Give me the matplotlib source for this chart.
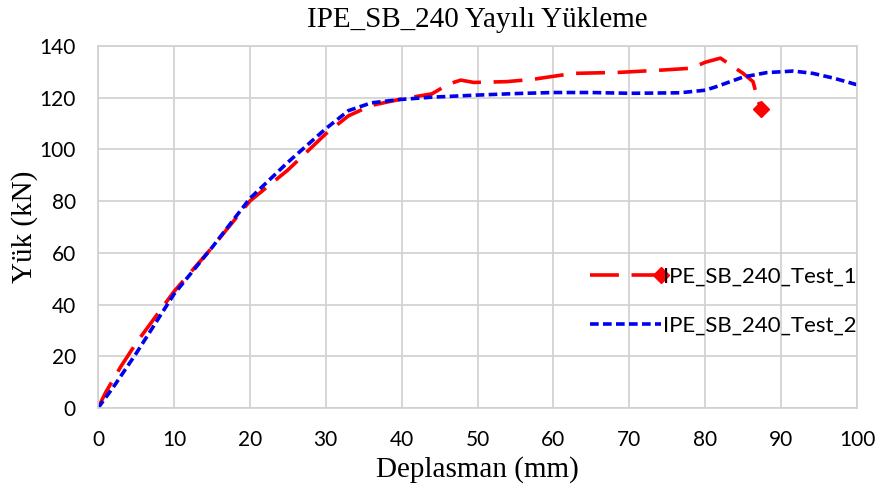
import matplotlib
matplotlib.use("Agg")
import matplotlib.pyplot as plt
from matplotlib.legend_handler import HandlerLine2D

# Veri - Test 1 (kırmızı)
x_test1 = [0, 1, 3, 5, 8, 10, 15, 20, 25, 30, 33, 36, 40, 44, 46.2, 47.8, 49.5, 53.8,
           57.3, 59.6, 62.6, 68.8, 74.4, 78.2, 80, 82, 85, 86.3, 87, 87.4]
y_test1 = [0, 6, 16, 25, 37, 45, 62, 80, 92, 106, 113, 117, 119.5, 121.5, 125.3, 126.8, 125.9, 126.2,
           127.1, 128.1, 129.4, 129.8, 130.7, 131.4, 133.7, 135.3, 129.4, 126.2, 118.5, 115.6]

# Veri - Test 2 (mavi)
x_test2 = [0, 2, 5, 10, 15, 20, 25, 30, 33, 36, 39.8, 44, 49.9, 55, 60, 65, 70.1, 76.7, 80,
           81.5, 85, 88.1, 91.6, 94.2, 97, 100]
y_test2 = [0, 8, 21, 44, 62, 81, 95, 108, 115, 118, 119.3, 120.2, 121, 121.6, 122, 122, 121.7, 121.9, 122.9,
           124.3, 128, 129.7, 130.3, 129.4, 127.5, 125]


# Legende: Marker am rechten Ende der Linie
class EndMarker(HandlerLine2D):
    def create_artists(self, legend, orig_handle, xdescent, ydescent, width, height, fontsize, trans):
        arts = super().create_artists(legend, orig_handle, xdescent, ydescent, width, height, fontsize, trans)
        arts[0].set_markevery([2])
        return arts


fig = plt.figure(figsize=(8.79, 4.97), dpi=100)
ax = fig.add_axes([0.1115, 0.179, 0.8635, 0.7285])

l1, = ax.plot(x_test1, y_test1, color="red", lw=2.6, dashes=(8, 3.5), label="IPE_SB_240_Test_1",
              marker="D", markevery=[len(x_test1) - 1], markersize=8)
ax.plot(x_test2, y_test2, color="#0000ee", lw=2.6, dashes=(2.4, 1.2), label="IPE_SB_240_Test_2")

ax.set_xlim(0, 100)
ax.set_ylim(0, 140)
ax.set_xticks(range(0, 101, 10))
ax.set_yticks(range(0, 141, 20))
ax.grid(True, color="#d0d0d0", lw=1.2)
ax.set_axisbelow(True)
for s in ax.spines.values():
    s.set_color("#d0d0d0")
    s.set_linewidth(1.2)
ax.tick_params(axis="x", length=0, pad=16, labelsize=15)
ax.tick_params(axis="y", length=0, pad=16, labelsize=15)
for lbl in ax.get_xticklabels() + ax.get_yticklabels():
    lbl.set_fontfamily("Lato")

ax.set_title("IPE_SB_240 Yayılı Yükleme", fontsize=21, fontfamily="Liberation Serif", pad=14)
ax.set_xlabel("Deplasman (mm)", fontsize=21, fontfamily="Liberation Serif", labelpad=4)
ax.set_ylabel("Yük (kN)", fontsize=21, fontfamily="Liberation Serif", labelpad=1)

ax.legend(loc="center left", bbox_to_anchor=(0.622, 0.296), frameon=False, handlelength=3.2,
          handletextpad=0.1, labelspacing=1.3, prop={"family": "Lato", "size": 16},
          handler_map={l1: EndMarker()})

plt.savefig("out.png", dpi=100)
